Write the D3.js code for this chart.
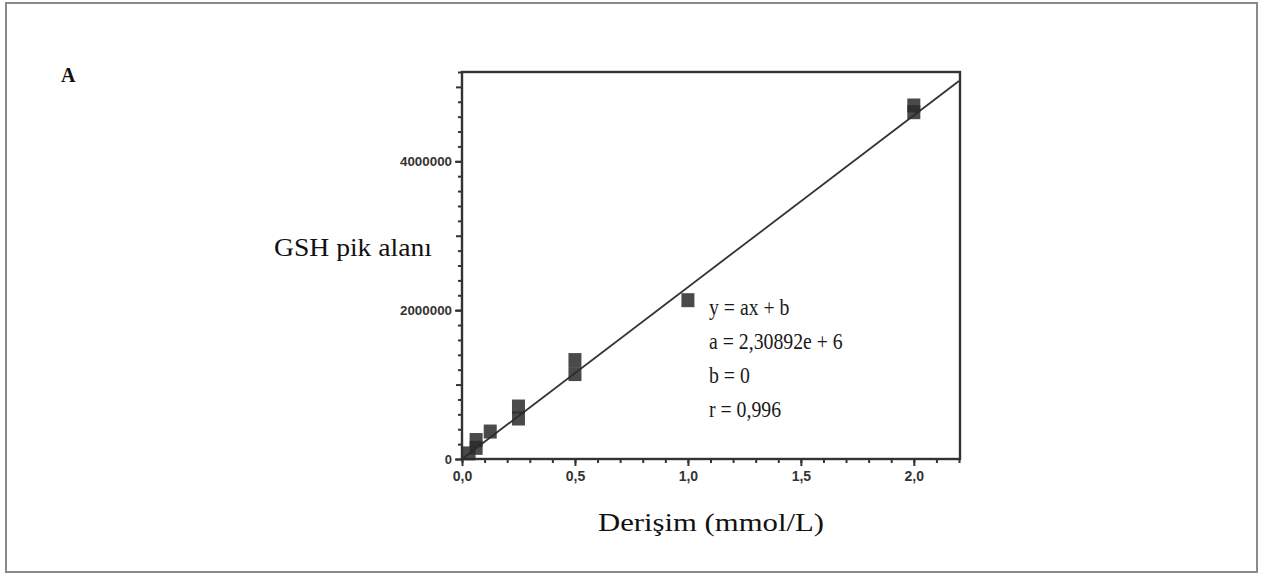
<!DOCTYPE html>
<html>
<head>
<meta charset="utf-8">
<script src="https://cdn.jsdelivr.net/npm/d3@7"></script>
<style>
  body { margin: 0; background: #fff; }
  svg { display: block; }
</style>
</head>
<body>
<div id="chart"></div>
<script>
// measured concentrations (mmol/L) and GSH peak areas
const conc = [0.03125, 0.0625, 0.0625, 0.125, 0.25, 0.25, 0.5, 0.5, 1.0, 2.0, 2.0]
const area = [75000, 255000, 150000, 369000, 705000, 544000, 1329000, 1141000, 2134000, 4750000, 4660000]

const slope = 2.30892e6
const xTicks = [0, 0.5, 1.0, 1.5, 2.0]
const yTicks = [0, 2000000, 4000000]
const eqLines = ["y = ax + b", "a = 2,30892e + 6", "b = 0", "r = 0,996"]

const W = 1262, H = 575
const plot = { left: 462, right: 960, top: 72, bottom: 459 }

const svg = d3.select("#chart").append("svg")
    .attr("width", W)
    .attr("height", H)

// outer frame
svg.append("rect")
    .attr("x", 6).attr("y", 3)
    .attr("width", 1251).attr("height", 569)
    .attr("fill", "none")
    .attr("stroke", "#8a8a8a")
    .attr("stroke-width", 2)

const serif = "Liberation Serif, Times New Roman, serif"

svg.append("text")
    .attr("x", 61).attr("y", 82)
    .attr("font-family", serif)
    .attr("font-weight", "bold")
    .attr("font-size", 20)
    .attr("fill", "#111")
    .text("A")

const x = d3.scaleLinear().domain([0, 2.2]).range([plot.left, plot.right - 1])
const y = d3.scaleLinear().domain([0, 5200000]).range([plot.bottom, plot.top])

const tickFont = "Liberation Sans, Arial, sans-serif"

// x axis: minor every 0.1
const xMinor = d3.range(0, 2.21, 0.1)
svg.append("g")
    .attr("transform", `translate(0,${plot.bottom})`)
    .call(d3.axisBottom(x).tickValues(xMinor).tickSize(4).tickFormat(""))
    .call(g => g.select(".domain").remove())
    .call(g => g.selectAll(".tick line").attr("stroke", "#333").attr("stroke-width", 2))

svg.append("g")
    .attr("transform", `translate(0,${plot.bottom})`)
    .call(d3.axisBottom(x).tickValues(xTicks).tickSize(7).tickPadding(5)
        .tickFormat(d => d3.format(".1f")(d).replace(".", ",")))
    .call(g => g.select(".domain").remove())
    .call(g => g.selectAll(".tick line").attr("stroke", "#333").attr("stroke-width", 2))
    .call(g => g.selectAll("text")
        .attr("font-family", tickFont)
        .attr("font-weight", "bold")
        .attr("font-size", 14)
        .attr("fill", "#333"))

// y axis: minor every 200000, mid every 1000000
const yMinor = d3.range(0, 5200001, 200000)
svg.append("g")
    .attr("transform", `translate(${plot.left},0)`)
    .call(d3.axisLeft(y).tickValues(yMinor).tickSize(4).tickFormat(""))
    .call(g => g.select(".domain").remove())
    .call(g => g.selectAll(".tick line")
        .attr("x2", d => d % 1000000 === 0 ? -6 : -4)
        .attr("stroke", "#333").attr("stroke-width", 2))

svg.append("g")
    .attr("transform", `translate(${plot.left},0)`)
    .call(d3.axisLeft(y).tickValues(yTicks).tickSize(7).tickPadding(3).tickFormat(d3.format("d")))
    .call(g => g.select(".domain").remove())
    .call(g => g.selectAll(".tick line").attr("stroke", "#333").attr("stroke-width", 2))
    .call(g => g.selectAll("text")
        .attr("font-family", tickFont)
        .attr("font-weight", "bold")
        .attr("font-size", 13)
        .attr("textLength", d => d === 0 ? null : 52)
        .attr("lengthAdjust", "spacingAndGlyphs")
        .attr("fill", "#333"))

// plot frame
svg.append("rect")
    .attr("x", plot.left).attr("y", plot.top)
    .attr("width", plot.right - plot.left)
    .attr("height", plot.bottom - plot.top)
    .attr("fill", "none")
    .attr("stroke", "#333")
    .attr("stroke-width", 2.4)

// fit line y = a x
svg.append("line")
    .attr("x1", x(0)).attr("y1", y(0))
    .attr("x2", x(2.2)).attr("y2", y(slope * 2.2))
    .attr("stroke", "#333")
    .attr("stroke-width", 1.8)

// data squares
svg.append("g")
    .selectAll("rect")
    .data(conc)
    .join("rect")
    .attr("x", d => x(d) - 6.5)
    .attr("y", (d, i) => y(area[i]) - 7)
    .attr("width", 13)
    .attr("height", 14)
    .attr("fill", "#2a2a2a")
    .attr("fill-opacity", 0.85)

// equation text
const eq = svg.append("g").attr("transform", "translate(709,0) scale(0.86,1)")
eq.selectAll("text")
    .data(eqLines)
    .join("text")
    .attr("x", 0)
    .attr("y", (d, i) => 315 + i * 34)
    .attr("font-family", serif)
    .attr("font-size", 23)
    .attr("fill", "#1a1a1a")
    .text(d => d)

// axis titles
svg.append("text")
    .attr("x", 274).attr("y", 256)
    .attr("font-family", serif)
    .attr("font-size", 25)
    .attr("textLength", 158)
    .attr("lengthAdjust", "spacingAndGlyphs")
    .attr("fill", "#111")
    .text("GSH pik alanı")

svg.append("text")
    .attr("x", 598).attr("y", 531)
    .attr("font-family", serif)
    .attr("font-size", 25)
    .attr("textLength", 226)
    .attr("lengthAdjust", "spacingAndGlyphs")
    .attr("fill", "#111")
    .text("Derişim (mmol/L)")
</script>
</body>
</html>
